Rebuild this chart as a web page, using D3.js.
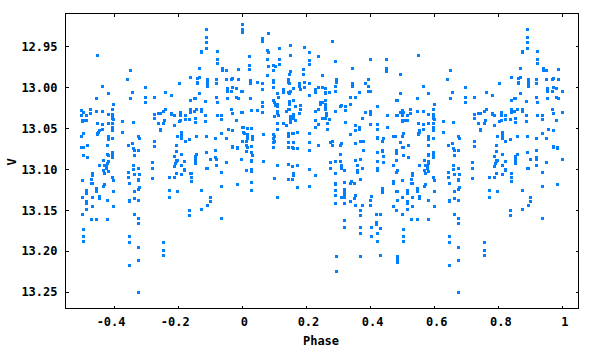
<!DOCTYPE html>
<html>
<head>
<meta charset="utf-8">
<script src="https://cdnjs.cloudflare.com/ajax/libs/d3/7.8.5/d3.min.js"></script>
<style>
    html, body { margin: 0; padding: 0; background: #fff; }
    svg { display: block; }
    text { font-family: "DejaVu Sans Mono", monospace; font-weight: bold; font-size: 12px; fill: #000; }
</style>
</head>
<body>
<svg width="600" height="350"></svg>
<script>
// each mags[i] holds the V values measured at phases[i]
var phases = [0, .002, .005, .008, .014, .017, .021, .024, .030, .033, .046, .064, .067, .079, .083, .096, .100, .104,
    .111, .114, .117, .127, .139, .143, .146, .149, .156, .158, .167, .173, .177, .180, .190, .195, .208, .211, .227,
    .239, .244, .250, .258, .261, .267, .273, .2765, .280, .289, .292, .295, .305, .308, .320, .323, .336, .339, .345,
    .351, .354, .358, .364, .367, .370, .376, .379, .383, .392, .401, .404, .417, .420, .423, .432, .436, .439, .451,
    .454, .473, .479, .482, .485, .492];
var mags = [
    [12.923, 12.929, 12.932, 13.004], [13.030, 13.048, 13.066], [13.049, 13.055], [13.056],
    [13.066, 13.071, 13.078, 13.101], [13.050, 13.057, 13.060, 13.062, 13.073], [12.962, 12.973, 12.978],
    [12.991, 12.995, 13.013], [13.028, 13.050, 13.072, 13.079, 13.089, 13.090, 13.100, 13.102, 13.116, 13.126],
    [13.059, 13.063, 13.083], [12.993, 13.028], [12.940, 12.944, 12.995, 13.002, 13.018, 13.023, 13.030],
    [13.057, 13.090], [12.954, 12.965, 12.985], [12.934, 12.957, 12.974],
    [12.973, 12.979, 12.991, 12.993, 13.000, 13.016, 13.057, 13.062, 13.067, 13.073],
    [13.018, 13.035, 13.059, 13.065, 13.111], [12.974, 13.022],
    [13.007, 13.021, 13.023, 13.029, 13.032, 13.044, 13.051, 13.095, 13.134], [13.012, 13.034], [12.952, 12.965, 12.972],
    [13.002, 13.006, 13.044], [13.029, 13.046],
    [12.990, 12.993, 13.006, 13.026, 13.056, 13.059, 13.067, 13.073, 13.094, 13.112],
    [12.984, 12.995, 13.007, 13.017, 13.020, 13.026], [12.949, 12.961, 12.980, 13.005, 13.035, 13.038, 13.040, 13.043],
    [13.056, 13.073, 13.096, 13.112], [13.001, 13.016, 13.033, 13.035, 13.038, 13.056, 13.067, 13.074, 13.105, 13.107],
    [13.023, 13.040], [13.055, 13.074, 13.095, 13.122], [12.995, 12.998, 13.032], [13.002, 13.022, 13.027],
    [12.978, 12.984], [12.951, 12.994, 13.000], [13.056, 13.067, 13.076, 13.100, 13.120],
    [12.957, 12.967, 12.972, 12.995, 13.009, 13.010], [13.002, 13.006, 13.029, 13.040, 13.048, 13.107],
    [12.962, 13.000, 13.027, 13.045, 13.071], [13.018, 13.020], [12.985, 13.000, 13.018, 13.037],
    [13.001, 13.006, 13.007, 13.016, 13.021, 13.023, 13.026, 13.027, 13.037], [13.032, 13.034], [13.044, 13.051],
    [13.006, 13.039], [13.067, 13.091, 13.099], [12.944, 13.065, 13.071],
    [12.968, 12.999, 13.090, 13.105, 13.117, 13.118, 13.126, 13.131, 13.141], [13.004, 13.005, 13.029],
    [12.990, 12.993, 13.206, 13.224], [13.023, 13.071, 13.082, 13.090], [13.022, 13.068, 13.095, 13.099, 13.134],
    [13.101, 13.116, 13.124, 13.126, 13.127, 13.128, 13.132, 13.134, 13.141, 13.162, 13.171], [13.023, 13.028, 13.043],
    [13.012, 13.020, 13.057, 13.117, 13.139], [13.115], [12.977, 12.995, 12.998], [13.117, 13.135],
    [13.012, 13.046, 13.052, 13.068, 13.089, 13.131, 13.144], [13.095, 13.101, 13.104], [13.006, 13.049, 13.051],
    [13.156, 13.178, 13.206], [13.066, 13.088, 13.112, 13.150, 13.170], [13.037, 13.065, 13.099, 13.144],
    [13.065, 13.076], [12.995, 13.030], [12.990, 12.998, 13.004],
    [12.966, 13.005, 13.029, 13.032, 13.033, 13.045, 13.137, 13.144], [13.133, 13.170, 13.171, 13.181],
    [13.155, 13.165, 13.167], [13.045, 13.061, 13.062, 13.090, 13.099, 13.101],
    [13.023, 13.051, 13.079, 13.178, 13.188], [13.155, 13.172, 13.205],
    [13.065, 13.077, 13.078, 13.123, 13.126, 13.128], [13.062, 13.084, 13.091], [12.966, 12.976, 12.980],
    [13.034, 13.048], [13.060, 13.095, 13.115, 13.117, 13.145], [13.060],
    [13.016, 13.034, 13.077, 13.079, 13.080, 13.089, 13.104, 13.127, 13.150],
    [13.016, 13.034, 13.101, 13.127, 13.137, 13.206, 13.209, 13.213], [12.984, 13.007, 13.030, 13.067]
];
// second half of the cycle, these also get repeated at phase - 1
var phases2 = [.498, .501, .504, .507, .514, .517, .526, .529, .532, .545, .548, .551, .554, .564, .568, .571, .577, .580,
    .582, .595, .598, .626, .641, .644, .647, .650, .657, .660, .663, .675, .678, .697, .719, .725, .738, .744, .754,
    .757, .760, .772, .779, .788, .791, .794, .797, .803, .807, .810, .820, .822, .835, .838, .840, .850, .853, .857,
    .860, .866, .873, .885, .888, .891, .900, .916, .919, .922, .935, .938, .950, .953, .956, .966, .969, .981, .984,
    .987, .997];
var mags2 = [
    [13.028, 13.034, 13.059, 13.073], [13.040, 13.041, 13.113, 13.134, 13.155],
    [13.030, 13.056, 13.073, 13.083, 13.173, 13.181, 13.188], [13.040],
    [13.034, 13.040, 13.126, 13.128, 13.129, 13.139, 13.141, 13.148], [13.070, 13.085], [13.027, 13.032],
    [13.112, 13.117, 13.161], [13.105, 13.107, 13.117, 13.134, 13.145], [13.013, 13.029, 13.123, 13.126, 13.127, 13.161],
    [12.961, 13.044, 13.056, 13.057], [13.055], [13.052, 13.095, 13.133, 13.135], [12.999, 13.029, 13.045, 13.051],
    [13.089, 13.101, 13.120], [13.095, 13.105, 13.118], [13.095, 13.098], [13.071, 13.082, 13.093, 13.138, 13.161],
    [13.007, 13.033, 13.044, 13.059, 13.063, 13.083, 13.090, 13.102],
    [13.026, 13.033, 13.035, 13.037, 13.044, 13.049, 13.051, 13.052, 13.062, 13.079, 13.082, 13.084, 13.085, 13.110],
    [13.021, 13.039, 13.113, 13.127, 13.145], [13.041, 13.055], [12.990], [13.071, 13.104, 13.110],
    [13.117, 13.137, 13.139, 13.182, 13.189, 13.217], [12.979, 13.013], [13.006, 13.068],
    [13.043, 13.074, 13.095, 13.100], [13.077, 13.083, 13.106, 13.127, 13.135, 13.155],
    [13.060, 13.077, 13.098, 13.112, 13.113, 13.124, 13.138, 13.160, 13.166, 13.195, 13.211, 13.250],
    [13.062, 13.106, 13.122], [13.000, 13.012, 13.018], [13.091, 13.098, 13.111],
    [13.012, 13.033, 13.038, 13.065, 13.066, 13.072], [13.032, 13.044], [13.032, 13.051, 13.052],
    [13.029, 13.044, 13.189, 13.199, 13.205], [13.040], [13.006, 13.026], [13.109, 13.126, 13.134],
    [13.009, 13.032, 13.033], [13.034, 13.046, 13.084, 13.096, 13.109], [13.093],
    [13.071, 13.078, 13.089, 13.090, 13.105], [13.060, 13.089, 13.127], [12.995, 13.041],
    [13.030, 13.033, 13.034, 13.040], [13.055, 13.057, 13.060, 13.062, 13.082, 13.095, 13.106],
    [13.090, 13.100, 13.101], [13.034, 13.039, 13.066], [13.039, 13.063, 13.150, 13.156],
    [12.988, 13.015, 13.026, 13.030, 13.105], [13.105, 13.109, 13.115], [13.013, 13.029],
    [13.013, 13.037, 13.043, 13.084, 13.088, 13.090, 13.093], [13.026, 13.060, 13.082], [12.989, 12.993, 12.995],
    [12.977, 12.987, 13.007], [12.956, 12.957, 13.027, 13.029, 13.126, 13.148], [13.017, 13.034, 13.041],
    [12.929, 12.939, 12.945, 12.952, 13.060, 13.079, 13.098], [12.990, 12.993, 12.995, 12.998, 13.098, 13.144],
    [13.088, 13.134, 13.139], [13.062, 13.077, 13.085], [12.990, 12.995, 13.012, 13.088, 13.095],
    [12.956, 12.966, 12.971, 13.018, 13.034], [13.034, 13.039, 13.056, 13.104, 13.120, 13.160], [12.977, 12.979],
    [12.979, 12.990, 13.062, 13.091], [13.001, 13.004, 13.005, 13.013], [13.051], [12.990, 13.004, 13.026],
    [12.989, 13.000, 13.032, 13.052, 13.072, 13.073], [13.001, 13.012, 13.040], [13.073, 13.074, 13.118],
    [12.978, 12.990, 13.013], [13.004, 13.030, 13.087]
];
var xTicks = [-0.4, -0.2, 0, 0.2, 0.4, 0.6, 0.8, 1];
var yTicks = [12.95, 13.00, 13.05, 13.10, 13.15, 13.20, 13.25];

var svg = d3.select("svg"),
    margin = {top: 13.5, right: 21.5, bottom: 41.5, left: 65.5},
    width = +svg.attr("width") - margin.left - margin.right,
    height = +svg.attr("height") - margin.top - margin.bottom,
    g = svg.append("g").attr("transform", "translate(" + margin.left + "," + margin.top + ")");

var x = d3.scaleLinear().domain([-0.55, 1.05]).range([0, width]);
var y = d3.scaleLinear().domain([12.91, 13.27]).range([0, height]);

var points = [];
phases.forEach(function (p, i) {
    mags[i].forEach(function (m) { points.push({phase: p, mag: m}); });
});
phases2.forEach(function (p, i) {
    mags2[i].forEach(function (m) {
        points.push({phase: p, mag: m});
        points.push({phase: p - 1, mag: m});
    });
});

// snap to whole pixels so every marker stays a 3x3 square
g.selectAll("rect.pt")
    .data(points)
    .enter().append("rect")
    .attr("class", "pt")
    .attr("x", function (d) { return Math.round(margin.left + x(d.phase)) - 1 - margin.left; })
    .attr("y", function (d) { return Math.round(margin.top + y(d.mag)) - 1 - margin.top; })
    .attr("width", 3)
    .attr("height", 3)
    .attr("fill", "#0080ff")
    .attr("shape-rendering", "crispEdges");

// ticks point inward on all four sides
function styleAxis(sel) {
    sel.select(".domain").remove();
    sel.selectAll("line").attr("stroke", "#000").attr("shape-rendering", "crispEdges");
    sel.attr("font-family", null).attr("font-size", null);
}

g.append("g").attr("transform", "translate(0," + height + ")")
    .call(d3.axisBottom(x).tickValues(xTicks).tickSize(-3).tickPadding(9)
        .tickFormat(function (d) { return String(d); }))
    .call(styleAxis)
    .selectAll("text")
    .attr("dx", function (d) { return d < 0 ? -3 : 2; });
g.append("g")
    .call(d3.axisTop(x).tickValues(xTicks).tickSize(-3).tickFormat(""))
    .call(styleAxis);
g.append("g")
    .call(d3.axisLeft(y).tickValues(yTicks).tickSize(-3).tickPadding(8).tickFormat(d3.format(".2f")))
    .call(styleAxis);
g.append("g").attr("transform", "translate(" + width + ",0)")
    .call(d3.axisRight(y).tickValues(yTicks).tickSize(-3).tickFormat(""))
    .call(styleAxis);

g.append("rect")
    .attr("width", width)
    .attr("height", height)
    .attr("fill", "none")
    .attr("stroke", "#000")
    .attr("shape-rendering", "crispEdges");

svg.append("text")
    .attr("x", 321)
    .attr("y", 345)
    .attr("text-anchor", "middle")
    .text("Phase");

svg.append("text")
    .attr("transform", "translate(16,162) rotate(-90)")
    .attr("text-anchor", "middle")
    .text("V");
</script>
</body>
</html>
